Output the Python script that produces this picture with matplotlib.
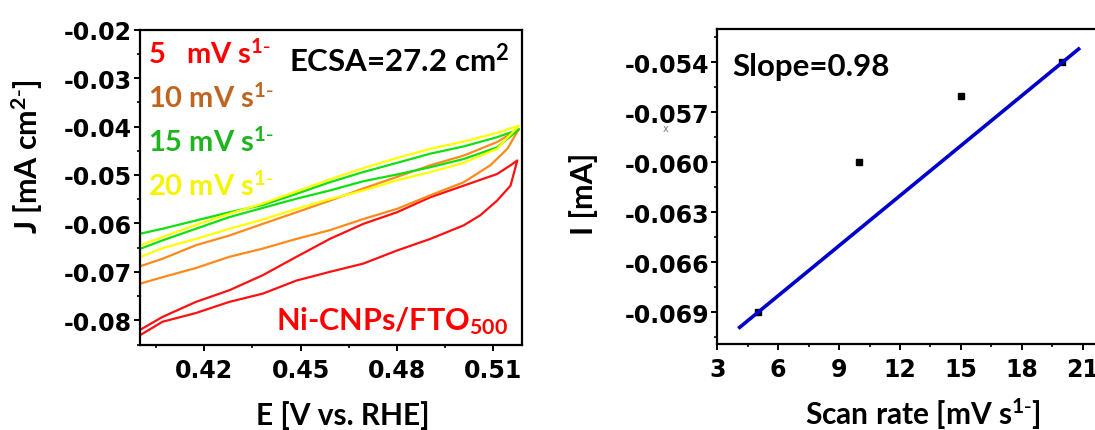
import matplotlib
matplotlib.use("Agg")
import numpy as np
import matplotlib.pyplot as plt
from matplotlib.ticker import MultipleLocator, FormatStrFormatter

plt.rcParams['axes.unicode_minus'] = False

# CV loops: potential (V vs RHE) and current density (mA cm-2), lower branch then upper branch
e_red = [0.4002, 0.4070, 0.4174, 0.4278, 0.4382, 0.4487, 0.4591, 0.4695, 0.4800, 0.4904, 0.5008,
         0.5060, 0.5112, 0.5154, 0.5175,
         0.5154, 0.5112, 0.5008, 0.4904, 0.4800, 0.4695, 0.4591, 0.4487, 0.4382, 0.4278, 0.4174,
         0.4070, 0.4002]
j_red = [-0.0830, -0.0803, -0.0785, -0.0762, -0.0745, -0.0718, -0.0700, -0.0683, -0.0656, -0.0632,
         -0.0604, -0.0583, -0.0553, -0.0522, -0.0470,
         -0.0480, -0.0498, -0.0522, -0.0546, -0.0577, -0.0601, -0.0632, -0.0669, -0.0707, -0.0738,
         -0.0762, -0.0793, -0.0819]

e_orange = [0.4002, 0.4070, 0.4174, 0.4278, 0.4382, 0.4487, 0.4591, 0.4695, 0.4800, 0.4904, 0.5008,
            0.5091, 0.5144, 0.5180,
            0.5112, 0.5008, 0.4904, 0.4800, 0.4695, 0.4591, 0.4487, 0.4382, 0.4278, 0.4174, 0.4070,
            0.4002]
j_orange = [-0.0724, -0.0711, -0.0692, -0.0669, -0.0652, -0.0632, -0.0614, -0.0591, -0.0570, -0.0542,
            -0.0515, -0.0480, -0.0446, -0.0405,
            -0.0432, -0.0460, -0.0480, -0.0504, -0.0528, -0.0553, -0.0577, -0.0601, -0.0625, -0.0645,
            -0.0673, -0.0688]

e_green = [0.4002, 0.4070, 0.4174, 0.4278, 0.4382, 0.4487, 0.4591, 0.4695, 0.4800, 0.4904, 0.5008,
           0.5112, 0.5180,
           0.5112, 0.5008, 0.4904, 0.4800, 0.4695, 0.4591, 0.4487, 0.4382, 0.4278, 0.4174, 0.4070,
           0.4002]
j_green = [-0.0652, -0.0635, -0.0611, -0.0587, -0.0568, -0.0549, -0.0532, -0.0513, -0.0499, -0.0484,
           -0.0467, -0.0443, -0.0406,
           -0.0422, -0.0441, -0.0456, -0.0475, -0.0494, -0.0515, -0.0539, -0.0562, -0.0577, -0.0594,
           -0.0611, -0.0621]

e_yellow = [0.4002, 0.4070, 0.4174, 0.4278, 0.4382, 0.4487, 0.4591, 0.4695, 0.4800, 0.4904, 0.5008,
            0.5112, 0.5180,
            0.5112, 0.5008, 0.4904, 0.4800, 0.4695, 0.4591, 0.4487, 0.4382, 0.4278, 0.4174, 0.4070,
            0.4002]
j_yellow = [-0.0669, -0.0651, -0.0632, -0.0611, -0.0592, -0.0570, -0.0550, -0.0532, -0.0511, -0.0494,
            -0.0475, -0.0446, -0.0398,
            -0.0413, -0.0431, -0.0446, -0.0465, -0.0486, -0.0509, -0.0534, -0.0559, -0.0580, -0.0603,
            -0.0628, -0.0645]

scan_labels = ["5   mV s", "10 mV s", "15 mV s", "20 mV s"]

# scan rate vs current
scan_rate = [5, 10, 15, 20]
current = [-0.069, -0.060, -0.0560, -0.054]
fit_range = [4.1, 20.8]

TXT = "Lato"
TICK = "DejaVu Sans"
SUP = r"$\mathregular{^{1\text{-}}}$"

fig = plt.figure(figsize=(10.95, 4.31), dpi=100)
ax1 = fig.add_axes([0.1279, 0.1961, 0.3489, 0.7327])
ax2 = fig.add_axes([0.6551, 0.1995, 0.3522, 0.7309])

curves = [(e_red, j_red, "#ff1010", "#ff0000"),
          (e_orange, j_orange, "#ff8a1a", "#c0651f"),
          (e_green, j_green, "#10e010", "#1db41d"),
          (e_yellow, j_yellow, "#ffff00", "#f5f500")]
for (e, j, lc, tc), lab, k in zip(curves, scan_labels, range(4)):
    ax1.plot(e, j, color=lc, lw=1.6)
    ax1.text(0.02, 0.895 - k * 0.139, lab + SUP, transform=ax1.transAxes,
             color=tc, fontsize=21, fontweight="bold", family=TXT, va="baseline")

ax1.text(0.39, 0.87, r"ECSA=27.2 cm$\mathregular{^2}$", transform=ax1.transAxes,
         fontsize=22.5, fontweight="bold", family=TXT, va="baseline")
ax1.text(0.355, 0.05, r"Ni-CNPs/FTO$\mathregular{_{500}}$", transform=ax1.transAxes,
         color="#ff0000", fontsize=22, fontweight="bold", family=TXT, va="baseline")

ax1.set_xlim(0.400, 0.519)
ax1.set_ylim(-0.0852, -0.0200)
ax1.xaxis.set_major_locator(MultipleLocator(0.03))
ax1.xaxis.set_minor_locator(MultipleLocator(0.015))
ax1.yaxis.set_major_locator(MultipleLocator(0.01))
ax1.yaxis.set_minor_locator(MultipleLocator(0.005))
ax1.xaxis.set_major_formatter(FormatStrFormatter("%.2f"))
ax1.yaxis.set_major_formatter(FormatStrFormatter("%.2f"))
ax1.set_xticks([0.42, 0.45, 0.48, 0.51])

ax1.set_xlabel("E [V vs. RHE]", fontsize=21.5, fontweight="bold", family=TXT, va="baseline")
ax1.set_ylabel(r"J [mA cm$\mathregular{^{2\text{-}}}$]", fontsize=22, fontweight="bold", family=TXT)
ax1.xaxis.set_label_coords(0.531, -0.248)
ax1.yaxis.set_label_coords(-0.25, 0.60)

# right panel
ax2.plot(scan_rate, current, "s", color="black", ms=5)
slope = (current[-1] - current[0]) / (scan_rate[-1] - scan_rate[0])
fit_y = [current[0] + slope * (x - scan_rate[0]) for x in fit_range]
ax2.plot(fit_range, fit_y, color="#0000cc", lw=2.6)
ax2.text(0.04, 0.855, "Slope=0.98", transform=ax2.transAxes, fontsize=22.5,
         fontweight="bold", family=TXT, va="baseline")

ax2.set_xlim(3, 22)
ax2.set_ylim(-0.0709, -0.0520)
ax2.xaxis.set_major_locator(MultipleLocator(3))
ax2.xaxis.set_minor_locator(MultipleLocator(1.5))
ax2.yaxis.set_major_locator(MultipleLocator(0.003))
ax2.yaxis.set_minor_locator(MultipleLocator(0.0015))
ax2.yaxis.set_major_formatter(FormatStrFormatter("%.3f"))
ax2.set_xticks([3, 6, 9, 12, 15, 18, 21])
ax2.set_yticks([-0.069, -0.066, -0.063, -0.060, -0.057, -0.054])

ax2.set_xlabel(r"Scan rate [mV s" + SUP + "]", fontsize=21.5, fontweight="bold", family=TXT,
               va="baseline")
ax2.set_ylabel("I [mA]", fontsize=22, fontweight="bold", family=TXT)
ax2.xaxis.set_label_coords(0.534, -0.254)
ax2.yaxis.set_label_coords(-0.31, 0.48)

for ax in (ax1, ax2):
    for s in ax.spines.values():
        s.set_linewidth(1.6)
    ax.tick_params(which="major", direction="out", length=4, width=1.4, pad=2)
    ax.tick_params(which="minor", direction="out", length=2.5, width=1.2)
    ax.tick_params(axis="x", which="major", pad=5)
    for t in ax.get_xticklabels() + ax.get_yticklabels():
        t.set_fontsize(17)
        t.set_fontweight("bold")
        t.set_family(TICK)

# small stray mark seen under the -0.057 label
fig.text(0.608, 0.70, "x", fontsize=7, color="#777777", ha="center", va="center")

fig.savefig("out.png", dpi=100)
